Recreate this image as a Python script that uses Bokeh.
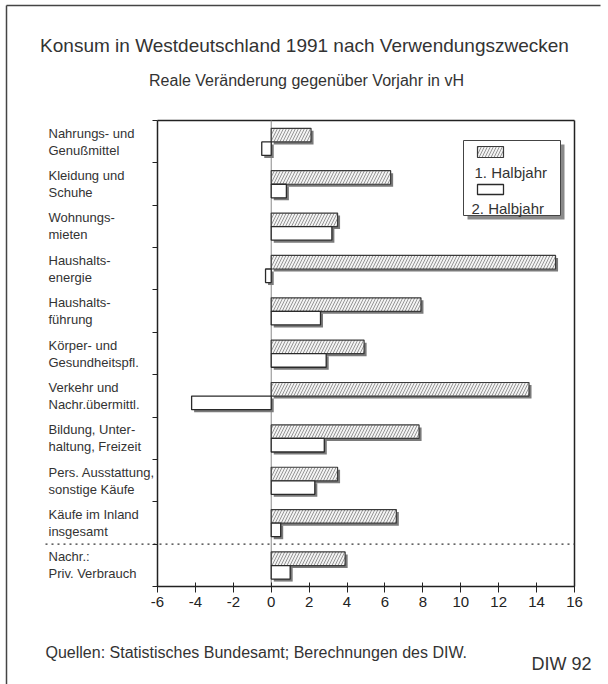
import numpy as np
from bokeh.plotting import figure
from bokeh.models import Range1d, FixedTicker, LinearAxis
from bokeh.core.properties import value
from bokeh.embed import file_html
from bokeh.resources import INLINE

# ---------------- data ----------------
categories = [
    "Nahrungs- und\nGenußmittel",
    "Kleidung und\nSchuhe",
    "Wohnungs-\nmieten",
    "Haushalts-\nenergie",
    "Haushalts-\nführung",
    "Körper- und\nGesundheitspfl.",
    "Verkehr und\nNachr.übermittl.",
    "Bildung, Unter-\nhaltung, Freizeit",
    "Pers. Ausstattung,\nsonstige Käufe",
    "Käufe im Inland\ninsgesamt",
    "Nachr.:\nPriv. Verbrauch",
]
halbjahr1 = [2.1, 6.3, 3.5, 15.0, 7.9, 4.9, 13.6, 7.8, 3.5, 6.6, 3.9]
halbjahr2 = [-0.5, 0.8, 3.2, -0.3, 2.6, 2.9, -4.2, 2.8, 2.3, 0.5, 1.0]
x_ticks = [-6, -4, -2, 0, 2, 4, 6, 8, 10, 12, 14, 16]
x_tick_labels = ["-6", "-4", "-2", "0", "2", "4", "6", "8", "10", "12", "14", "16"]
series_labels = ["1. Halbjahr", "2. Halbjahr"]
title_text = "Konsum in Westdeutschland 1991 nach Verwendungszwecken"
subtitle_text = "Reale Veränderung gegenüber Vorjahr in vH"
source_text = "Quellen: Statistisches Bundesamt; Berechnungen des DIW."
badge_text = "DIW 92"

# ---------------- layout ----------------
FONT = "Liberation Sans"
TXT = "#333333"
W, H = 608, 684
ML, MR, MT, MB = 157, 34, 120, 98        # where the plotting box sits on the canvas
FW, FH = W - ML - MR, H - MT - MB
n = len(categories)
X0, X1 = x_ticks[0], x_ticks[-1]
ppx = FW / (X1 - X0)
ppy = FH / n

def gx(px):  # canvas pixel -> data x (layout helper for decorations/text)
    return X0 + (px - ML) / ppx

def gy(py):  # canvas pixel -> data y
    return (py - MT) / ppy

p = figure(width=W, height=H,
           x_range=Range1d(X0 - ML / ppx, X1 + MR / ppx),
           y_range=Range1d(n + MB / ppy, -MT / ppy),
           output_backend="svg", toolbar_location=None,
           x_axis_location=None, y_axis_location=None,
           min_border=0, min_border_left=0, min_border_right=0,
           min_border_top=0, min_border_bottom=0)
p.xgrid.visible = False
p.ygrid.visible = False
p.outline_line_color = None
p.background_fill_color = "white"
p.border_fill_color = "white"

# x axis at the bottom of the plotting box
xax = LinearAxis(fixed_location=n, bounds=(X0, X1),
                 ticker=FixedTicker(ticks=x_ticks),
                 major_label_overrides={t: l for t, l in zip(x_ticks, x_tick_labels)})
xax.major_label_text_font = FONT
xax.major_label_text_font_size = "15px"
xax.major_label_text_color = "#222222"
xax.major_tick_out = 6
xax.major_tick_in = 4
xax.minor_tick_line_color = None
xax.axis_line_width = 1.5
xax.axis_line_color = "#222222"
xax.major_tick_line_color = "#222222"
xax.major_label_standoff = 4
p.add_layout(xax, "below")

# y axis: ticks at category boundaries, labels not drawn
yax = LinearAxis(fixed_location=X0, bounds=(0, n),
                 ticker=FixedTicker(ticks=list(range(n + 1))))
yax.major_label_text_color = None
yax.major_tick_out = 5
yax.major_tick_in = 0
yax.minor_tick_line_color = None
yax.axis_line_width = 1.5
yax.axis_line_color = "#222222"
yax.major_tick_line_color = "#222222"
p.add_layout(yax, "left")

# top and right edges of the plotting box
p.segment(x0=[X0, X1], y0=[0, 0], x1=[X1, X1], y1=[0, n],
          line_color="#222222", line_width=1.5)

# outer page border (top and left)
p.segment(x0=[gx(6), gx(6)], y0=[gy(5), gy(5)], x1=[gx(600), gx(6)], y1=[gy(5), gy(684)],
          line_color="#444444", line_width=1.5)

# zero line
p.segment(x0=[0], y0=[0], x1=[0], y1=[n], line_color="#8a8a8a", line_width=1)

# dotted separator before the "Nachr.:" row
p.segment(x0=[gx(45)], y0=[n - 1], x1=[X1], y1=[n - 1], line_dash="dotted",
          line_color="#333333", line_width=1.3)

# ---------------- bars ----------------
idx = np.arange(n)
bh = 0.32
y1 = idx + 0.345
y2 = idx + 0.665
v1 = np.array(halbjahr1)
v2 = np.array(halbjahr2)
sdx = 2.5 / ppx
sdy = 2.5 / ppy

shadow = dict(fill_color="#7a7a7a", line_color=None)
p.hbar(y=y1 + sdy, left=np.minimum(v1, 0) + sdx, right=np.maximum(v1, 0) + sdx,
       height=bh, **shadow)
p.hbar(y=y2 + sdy, left=np.minimum(v2, 0) + sdx, right=np.maximum(v2, 0) + sdx,
       height=bh, **shadow)

hatched = dict(fill_color="#f3f3f3", hatch_pattern="/", hatch_color="#7d7d7d",
               hatch_scale=6, hatch_weight=0.8, line_color="#3a3a3a", line_width=1.2)
plain = dict(fill_color="white", line_color="#2a2a2a", line_width=1.3)
p.hbar(y=y1, left=np.minimum(v1, 0), right=np.maximum(v1, 0), height=bh, **hatched)
p.hbar(y=y2, left=np.minimum(v2, 0), right=np.maximum(v2, 0), height=bh, **plain)

# ---------------- category labels ----------------
line1 = [c.split("\n")[0] for c in categories]
line2 = [c.split("\n")[1] for c in categories]
lab_style = dict(text_font=value(FONT), text_font_size="13px", text_color=TXT,
                 text_baseline="middle", text_align="left")
p.text(x=[gx(48)] * n, y=idx + 0.5 - 8.5 / ppy, text=line1, **lab_style)
p.text(x=[gx(48)] * n, y=idx + 0.5 + 8.5 / ppy, text=line2, **lab_style)

# ---------------- legend ----------------
lx0, lx1, ly0, ly1 = gx(463), gx(560), gy(140), gy(215)
p.quad(left=[lx0 + 4 / ppx], right=[lx1 + 4 / ppx], top=[ly0 + 4 / ppy],
       bottom=[ly1 + 4 / ppy], fill_color="#8a8a8a", line_color=None)
p.quad(left=[lx0], right=[lx1], top=[ly0], bottom=[ly1], fill_color="white",
       line_color="#444444", line_width=1)
p.quad(left=[gx(477)], right=[gx(503)], top=[gy(146)], bottom=[gy(157)], **hatched)
p.quad(left=[gx(477)], right=[gx(503)], top=[gy(184)], bottom=[gy(194)], **plain)
leg_style = dict(text_font=value(FONT), text_font_size="15px", text_color=TXT,
                 text_baseline="middle", text_align="left")
p.text(x=[gx(474), gx(471)], y=[gy(172), gy(208)], text=series_labels, **leg_style)

# ---------------- titles & footer ----------------
p.text(x=[gx(304)], y=[gy(45)], text=[title_text], text_font=value(FONT),
       text_font_size="19px", text_color=TXT, text_align="center", text_baseline="middle")
p.text(x=[gx(306)], y=[gy(80)], text=[subtitle_text], text_font=value(FONT),
       text_font_size="16px", text_color=TXT, text_align="center", text_baseline="middle")
p.text(x=[gx(45)], y=[gy(652)], text=[source_text], text_font=value(FONT),
       text_font_size="16px", text_color=TXT, text_align="left", text_baseline="middle")
p.text(x=[gx(591)], y=[gy(663)], text=[badge_text], text_font=value(FONT),
       text_font_size="18px", text_color=TXT, text_align="right", text_baseline="middle")

open("out.html", "w").write(file_html(p, INLINE))
